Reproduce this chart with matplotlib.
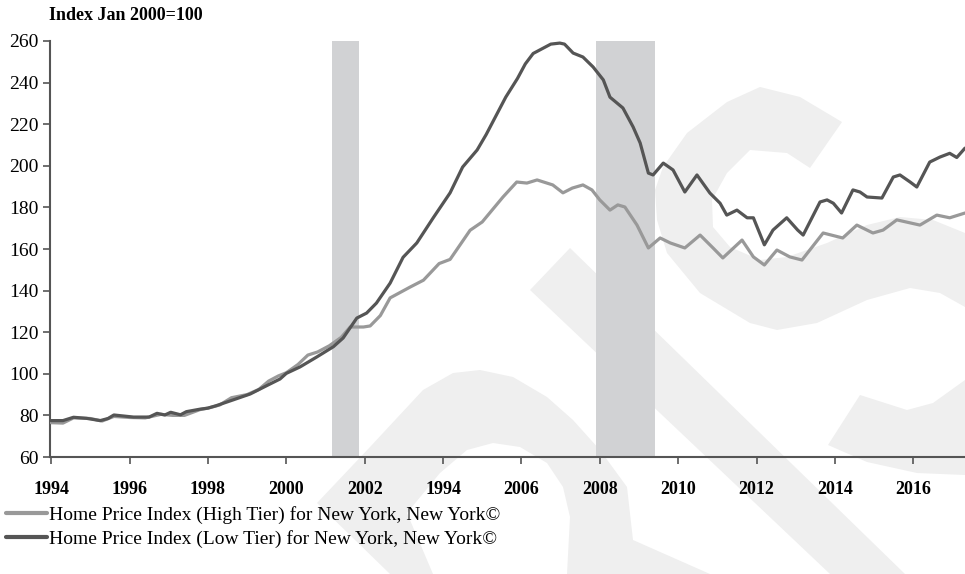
import matplotlib
matplotlib.use("Agg")
import matplotlib.pyplot as plt
from matplotlib.patches import Polygon

plt.rcParams["font.family"] = ["Liberation Serif", "DejaVu Serif"]

# =====================================================
# Data
# =====================================================

low_years = [1994.0, 1994.3, 1994.57, 1994.9, 1995.25, 1995.45, 1995.6, 1996.1,
             1996.5, 1996.7, 1996.9, 1997.05, 1997.3, 1997.45, 1997.8, 1998.0,
             1998.2, 1998.65, 1999.08, 1999.5, 1999.84, 2000.0, 2000.35, 2000.77,
             2001.2, 2001.45, 2001.8, 2002.05, 2002.3, 2002.65, 2002.98, 2003.33,
             2003.75, 2004.18, 2004.5, 2004.87, 2005.1, 2005.35, 2005.6, 2005.9,
             2006.1, 2006.3, 2006.55, 2006.75, 2006.98, 2007.1, 2007.32, 2007.57,
             2007.83, 2008.09, 2008.26, 2008.59, 2008.85, 2009.03, 2009.24, 2009.36,
             2009.62, 2009.87, 2010.17, 2010.48, 2010.81, 2011.07, 2011.24, 2011.5,
             2011.76, 2011.92, 2012.2, 2012.42, 2012.77, 2013.05, 2013.19, 2013.62,
             2013.8, 2013.96, 2014.17, 2014.46, 2014.64, 2014.82, 2015.2, 2015.49,
             2015.66, 2015.92, 2016.09, 2016.42, 2016.68, 2016.93, 2017.11, 2017.32]
low_tier = [77.5, 77.5, 79.1, 78.6, 77.5, 78.5, 80.2, 79.2,
            79.2, 81.0, 80.2, 81.5, 80.3, 81.8, 83.0, 83.5,
            84.6, 87.5, 90.3, 94.3, 97.5, 100.2, 103.3, 108.0,
            113.0, 117.2, 126.8, 129.2, 134.0, 143.6, 156.0, 162.9,
            175.0, 187.0, 199.4, 207.6, 215.0, 224.0, 233.0, 242.0,
            249.0, 254.0, 256.5, 258.5, 259.0, 258.5, 254.2, 252.3,
            247.5, 241.3, 233.0, 227.8, 218.7, 211.0, 196.5, 195.6,
            201.3, 198.0, 187.4, 195.6, 186.9, 182.0, 176.3, 178.7,
            175.0, 175.0, 162.0, 169.1, 175.0, 169.1, 166.7, 182.6,
            183.6, 182.0, 177.3, 188.4, 187.4, 185.0, 184.5, 194.6,
            195.6, 192.2, 189.8, 201.8, 204.2, 206.0, 204.0, 208.5]

high_years = [1994.0, 1994.3, 1994.57, 1995.0, 1995.3, 1995.6, 1996.0, 1996.4,
              1996.8, 1997.1, 1997.4, 1997.8, 1998.0, 1998.3, 1998.6, 1999.0,
              1999.3, 1999.55, 1999.8, 2000.0, 2000.3, 2000.55, 2000.8, 2001.1,
              2001.4, 2001.63, 2001.97, 2002.14, 2002.4, 2002.65, 2003.16, 2003.5,
              2003.9, 2004.18, 2004.69, 2005.0, 2005.53, 2005.88, 2006.14, 2006.4,
              2006.8, 2007.06, 2007.3, 2007.57, 2007.8, 2008.0, 2008.26, 2008.46,
              2008.64, 2008.95, 2009.24, 2009.54, 2009.8, 2010.17, 2010.56, 2010.89,
              2011.14, 2011.63, 2011.92, 2012.2, 2012.52, 2012.85, 2013.16, 2013.7,
              2014.2, 2014.56, 2014.97, 2015.23, 2015.58, 2016.17, 2016.6, 2016.93,
              2017.32]
high_tier = [76.5, 76.3, 78.8, 78.5, 77.3, 79.5, 79.0, 78.8,
             80.5, 80.0, 80.0, 82.8, 83.5, 85.0, 88.5, 90.0,
             92.5, 96.5, 99.0, 100.5, 104.5, 109.0, 110.5, 113.5,
             117.5, 122.5, 122.5, 123.0, 128.0, 136.5, 141.7, 145.0,
             153.0, 155.0, 169.0, 173.0, 185.0, 192.2, 191.7, 193.2,
             190.8, 187.0, 189.3, 190.8, 188.4, 183.6, 178.7, 181.2,
             180.2, 171.5, 160.5, 165.3, 162.9, 160.5, 166.7, 160.5,
             155.7, 164.3, 156.2, 152.3, 159.5, 156.2, 154.7, 167.7,
             165.3, 171.5, 167.7, 169.1, 174.0, 171.5, 176.3, 175.0,
             177.3]

recessions = [(2001.17, 2001.86), (2007.9, 2009.41)]

tick_years = [1994, 1996, 1998, 2000, 2002, 2004, 2006, 2008, 2010, 2012, 2014, 2016]
tick_labels = ["1994", "1996", "1998", "2000", "2002", "1994", "2006", "2008",
               "2010", "2012", "2014", "2016"]

# =====================================================
# Figure
# =====================================================

fig = plt.figure(figsize=(9.65, 5.74), dpi=100)

# faint watermark in the background (pixel coordinates)
bg = fig.add_axes([0, 0, 1, 1], zorder=0)
bg.set_xlim(0, 965)
bg.set_ylim(574, 0)
bg.axis("off")
wm = "#efefef"
band = [(530, 290), (570, 248), (905, 574), (830, 574)]
arch = [(390, 574), (317, 503), (370, 447), (423, 390), (453, 373), (480, 370),
        (513, 377), (547, 397), (573, 420), (600, 450), (627, 487), (633, 540),
        (710, 574), (567, 574), (570, 517), (563, 487), (547, 463), (520, 447),
        (493, 443), (467, 450), (440, 473), (407, 513), (433, 574)]
s_top = [(842, 122), (800, 97), (760, 87), (727, 102), (687, 133), (663, 167),
         (655, 190), (657, 220), (667, 253), (700, 293), (750, 323), (777, 330),
         (817, 323), (867, 300), (910, 288), (940, 293), (965, 307), (965, 233),
         (933, 220), (900, 217), (867, 225), (827, 243), (787, 257), (760, 260),
         (730, 247), (713, 227), (712, 200), (727, 173), (750, 150), (787, 153),
         (810, 168)]
s_bottom = [(828, 445), (860, 395), (907, 410), (933, 403), (965, 380),
            (965, 475), (917, 473), (867, 462)]
for pts in [band, arch, s_top, s_bottom]:
    bg.add_patch(Polygon(pts, closed=True, facecolor=wm, edgecolor="none"))

ax = fig.add_axes([50 / 965, 1 - 457 / 574, 915 / 965, (457 - 41) / 574], zorder=1)
ax.set_facecolor("none")

for start, end in recessions:
    ax.axvspan(start, end, color="#d1d2d4", lw=0, zorder=1)

high_line, = ax.plot(high_years, high_tier, color="#999999", lw=2.3,
                     solid_joinstyle="round", solid_capstyle="round", zorder=3,
                     label="Home Price Index (High Tier) for New York, New York©")
low_line, = ax.plot(low_years, low_tier, color="#555555", lw=2.3,
                    solid_joinstyle="round", solid_capstyle="round", zorder=4,
                    label="Home Price Index (Low Tier) for New York, New York©")

ax.set_xlim(1993.97, 2017.32)
ax.set_ylim(60, 260)
ax.set_xticks(tick_years)
ax.set_xticklabels(tick_labels, fontweight="bold", fontsize=13)
ax.set_yticks(range(60, 261, 20))
ax.tick_params(axis="y", labelsize=14, length=5, width=1.2, color="#555555",
               pad=3)
ax.tick_params(axis="x", length=5, width=1.2, color="#555555", pad=12)
for side in ["top", "right"]:
    ax.spines[side].set_visible(False)
for side in ["left", "bottom"]:
    ax.spines[side].set_color("#555555")
    ax.spines[side].set_linewidth(1.5)
ax.set_axisbelow(False)

fig.text(49 / 965, 1 - 15 / 574, "Index Jan 2000=100", fontsize=13,
         fontweight="bold", va="center", ha="left")

leg = fig.legend(handles=[high_line, low_line], loc="upper left",
                 bbox_to_anchor=(6 / 965, 1 - 506 / 574), frameon=False,
                 fontsize=14, handlelength=2.1, handletextpad=0.1,
                 labelspacing=0.33, borderaxespad=0, borderpad=0)
for handle in leg.legend_handles:
    handle.set_linewidth(3.0)

fig.savefig("out.png", dpi=100)
